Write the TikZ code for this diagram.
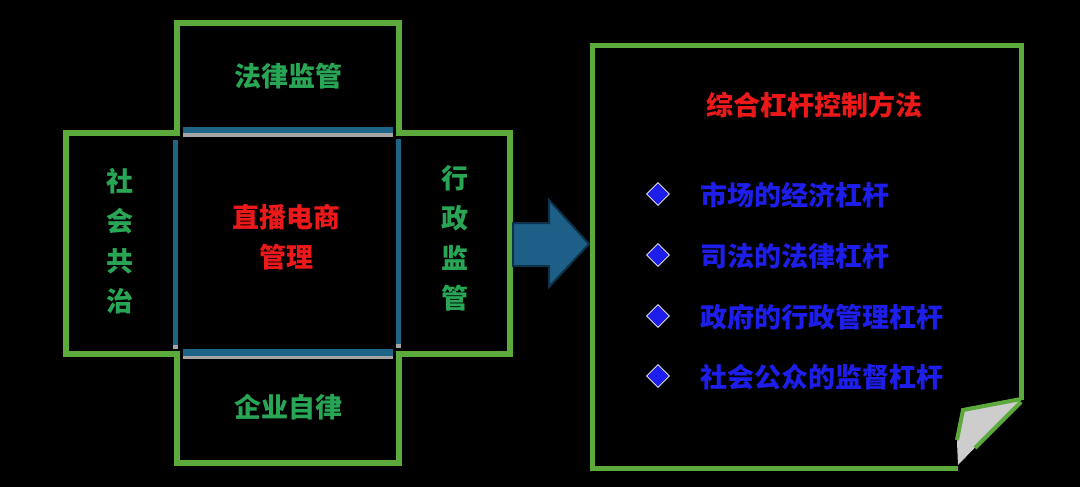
\documentclass[tikz,border=0pt]{standalone}
\usepackage{fontspec}
\newfontfamily\cjk{Noto Sans CJK SC}
\usetikzlibrary{shapes.geometric}
\definecolor{gline}{RGB}{92,170,60}
\definecolor{gtext}{RGB}{40,165,85}
\definecolor{rtext}{RGB}{235,25,25}
\definecolor{btext}{RGB}{30,30,235}
\definecolor{barblue}{RGB}{30,100,135}
\definecolor{bargrey}{RGB}{165,165,165}
\definecolor{arrowfill}{RGB}{30,95,135}
\definecolor{arrowedge}{RGB}{15,50,75}
\definecolor{flapgrey}{RGB}{205,205,205}
\begin{document}
\begin{tikzpicture}[x=1pt,y=-1pt,
  gtxt/.style={text=gtext, font=\cjk\bfseries\fontsize{27}{40}\selectfont, inner sep=0pt, align=center},
  rtxt/.style={text=rtext, font=\cjk\bfseries\fontsize{27}{40}\selectfont, inner sep=0pt, align=center},
  btxt/.style={text=btext, font=\cjk\bfseries\fontsize{27}{30}\selectfont, inner sep=0pt, anchor=west},
  bullet/.style={diamond, fill=btext, draw=white, line width=0.6pt, inner sep=0pt, minimum size=23pt},
  outline/.style={draw=gline, line width=6pt, line join=miter},
]
\fill[black] (0,0) rectangle (1080,487);
\useasboundingbox (0,0) rectangle (1080,487);

% cross outline
\draw[outline] (177,23) -- (399,23) -- (399,133) -- (510,133) -- (510,354) -- (399,354)
  -- (399,463) -- (177,463) -- (177,354) -- (66,354) -- (66,133) -- (177,133) -- cycle;

% blue fold bars of the centre square
\fill[barblue] (183,127) rectangle (393,133);
\fill[bargrey] (183,133) rectangle (393,137);
\fill[barblue] (183,349) rectangle (393,356);
\fill[bargrey] (183,356) rectangle (393,359);
\fill[barblue] (173,140) rectangle (178,345);
\fill[bargrey] (173,345) rectangle (178,349);
\fill[barblue] (396,139) rectangle (401,344);
\fill[bargrey] (396,344) rectangle (401,348);

% texts of the cross
\node[gtxt] (law) at (288,76) {法律监管};
\node[gtxt] (soc) at (120,241) {社\\会\\共\\治};
\node[gtxt] (adm) at (455,238) {行\\政\\监\\管};
\node[gtxt] (ent) at (288,407) {企业自律};
\node[rtxt] (core) at (286,237) {直播电商\\管理};

% block arrow
\draw[arrowedge, fill=arrowfill, line width=2pt, line join=miter]
  (513,223) -- (549,223) -- (549,200) -- (589,244) -- (549,287) -- (549,266) -- (513,266) -- cycle;

% right panel with folded corner
\fill[flapgrey] (1021,400) -- (963,410) -- (957,442) -- (958,465) -- cycle;
\draw[gline, line width=5pt, line join=miter] (1021,400) -- (1021,46) -- (592,46) -- (592,468) -- (958,468);
\draw[gline, line width=4pt, line join=miter] (1021,399) -- (963,410) -- (957,440);
\draw[gline, line width=4pt] (1021,402) -- (975,448);

\node[rtxt] (title) at (814,105) {综合杠杆控制方法};

\node[bullet] (d1) at (658,194) {};
\node[bullet] (d2) at (658,255) {};
\node[bullet] (d3) at (658,316) {};
\node[bullet] (d4) at (658,376) {};
\node[btxt] (t1) at (700,195) {市场的经济杠杆};
\node[btxt] (t2) at (700,256) {司法的法律杠杆};
\node[btxt] (t3) at (700,317) {政府的行政管理杠杆};
\node[btxt] (t4) at (700,377) {社会公众的监督杠杆};
\end{tikzpicture}
\end{document}
